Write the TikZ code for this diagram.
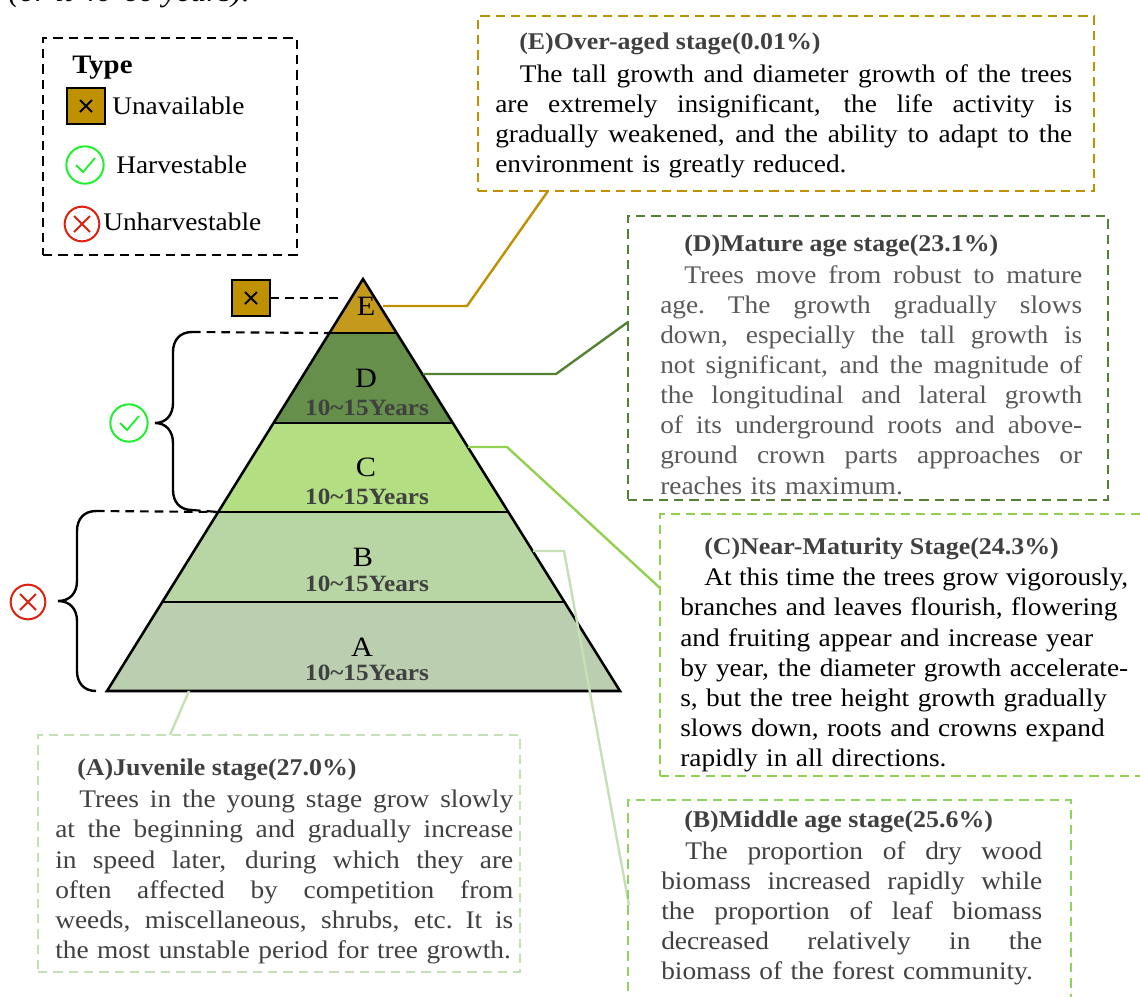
\documentclass[tikz,border=0pt]{standalone}
\usepackage{fontspec}
\setmainfont[FakeStretch=1.08]{Liberation Serif}
\usetikzlibrary{calc}
\definecolor{gE}{HTML}{BF9000}
\definecolor{gD}{HTML}{548235}
\definecolor{gC}{HTML}{92D050}
\definecolor{gB}{HTML}{8FD460}
\definecolor{gA}{HTML}{C5E0B4}
\definecolor{fE}{HTML}{C49A1C}
\definecolor{fD}{HTML}{658F4A}
\definecolor{fC}{HTML}{B3DF82}
\definecolor{fB}{HTML}{B8D6A4}
\definecolor{fA}{HTML}{BBCEAF}
\definecolor{okg}{HTML}{1FEF2F}
\definecolor{nor}{HTML}{E0200F}
\definecolor{txd}{HTML}{404040}
\definecolor{txg}{HTML}{595959}
\newcommand{\jl}[2][0pt]{\leavevmode\hbox to \hsize{\spaceskip=.25em plus 1fil minus .1em\xspaceskip=\spaceskip\hspace*{#1}#2}\\}
\newcommand{\lft}[2][0pt]{\makebox[\hsize][l]{\hspace*{#1}#2}\\}
\tikzset{
  x=0.75pt,y=-0.75pt,
  dbox/.style={draw=#1,dash pattern=on 7pt off 4.5pt,line width=1.6pt,anchor=north west,inner sep=0pt,outer sep=0pt},
  para/.style={anchor=north west,inner sep=0pt,align=left,font=\fontsize{19}{22.6}\selectfont},
  ttl/.style={anchor=west,inner sep=0pt,font=\fontsize{18}{22}\selectfont\bfseries,text=txd},
  seg/.style={draw=black,line width=1.9pt,line join=miter},
  lead/.style={draw=#1,line width=1.8pt},
  yrs/.style={inner sep=0pt,font=\fontsize{17.5}{20}\selectfont\bfseries,text=txd},
  let/.style={inner sep=0pt,font=\fontsize{21}{22}\selectfont},
  leg/.style={anchor=west,inner sep=0pt,font=\fontsize{19}{22}\selectfont},
  squ/.style={draw=black,fill=gE,line width=1.7pt,minimum width=29pt,minimum height=27pt,inner sep=0pt,outer sep=0pt},
  okc/.style={draw=okg,line width=1.5pt,circle,minimum size=28pt,inner sep=0pt},
  noc/.style={draw=nor,line width=1.5pt,circle,minimum size=26pt,inner sep=0pt},
  chk/.pic={\draw[okg,line width=1.4pt] (-9,0) -- (-2,7) -- (10,-7);},
  crs/.pic={\draw[nor,line width=1.5pt] (-8,-8) -- (8,8) (-8,8) -- (8,-8);},
  xxs/.pic={\draw[black,line width=1.5pt] (-6,-6) -- (6,6) (-6,6) -- (6,-6);},
  dsh/.style={draw=black,line width=1.6pt,dash pattern=on 6.5pt off 4.5pt},
  brc/.style={draw=black,line width=1.8pt},
}
\begin{document}
\begin{tikzpicture}
\useasboundingbox (0,0) rectangle (1140,997);
\clip (0,0) rectangle (1140,997);
% cropped line of text at the top
\node[anchor=east,inner sep=0pt,font=\fontsize{22}{24}\selectfont\itshape] (toptext) at (250,-6) {(or it 40-60 years).};
% pyramid
\coordinate (ap) at (363,279);
\coordinate (bl) at (107,691);
\coordinate (br) at (620,691);
\coordinate (l1) at ($(ap)!0.1311!(bl)$);
\coordinate (r1) at ($(ap)!0.1311!(br)$);
\coordinate (l2) at ($(ap)!0.3495!(bl)$);
\coordinate (r2) at ($(ap)!0.3495!(br)$);
\coordinate (l3) at ($(ap)!0.5655!(bl)$);
\coordinate (r3) at ($(ap)!0.5655!(br)$);
\coordinate (l4) at ($(ap)!0.7840!(bl)$);
\coordinate (r4) at ($(ap)!0.7840!(br)$);
\fill[fA] (l4) -- (r4) -- (br) -- (bl) -- cycle;
\fill[fB] (l3) -- (r3) -- (r4) -- (l4) -- cycle;
\fill[fC] (l2) -- (r2) -- (r3) -- (l3) -- cycle;
\fill[fD] (l1) -- (r1) -- (r2) -- (l2) -- cycle;
\fill[fE] (ap) -- (r1) -- (l1) -- cycle;
\draw[seg] (ap) -- (br) -- (bl) -- cycle;
\draw[seg] (l1) -- (r1) (l2) -- (r2) (l3) -- (r3) (l4) -- (r4);
\node[let] (letE) at (366,306) {E};
\node[let] (letD) at (366,378) {D};
\node[let] (letC) at (366,467) {C};
\node[let] (letB) at (363,557) {B};
\node[let] (letA) at (362,647) {A};
\node[yrs] (yrsD) at (367,408) {10\textasciitilde15Years};
\node[yrs] (yrsC) at (367,497) {10\textasciitilde15Years};
\node[yrs] (yrsB) at (367,584) {10\textasciitilde15Years};
\node[yrs] (yrsA) at (367,673) {10\textasciitilde15Years};
% leaders
\coordinate (eA) at (383,306); \coordinate (eB) at (467,306); \coordinate (eC) at (548,191);
\coordinate (dA) at (423,374); \coordinate (dB) at (556,374); \coordinate (dC) at (628,322);
\coordinate (cA) at (468,447); \coordinate (cB) at (507,447); \coordinate (cC) at (660,588);
\coordinate (bA) at (533,551); \coordinate (bB) at (564,551); \coordinate (bC) at (629,905);
\coordinate (aA) at (189,691); \coordinate (aC) at (170,735);
\draw[lead=gE] (eA) -- (eB) -- (eC);
\draw[lead=gD] (dA) -- (dB) -- (dC);
\draw[lead=gC] (cA) -- (cB) -- (cC);
\draw[lead=gA] (bA) -- (bB) -- (bC);
\draw[lead=gA] (aA) -- (aC);
% text boxes
\node[dbox=gE,minimum width=462pt,minimum height=131.25pt] (boxE) at (478,16) {};
\node[ttl] (tE) at (519,44) {(E)Over-aged stage(0.01\%)};
\node[para,text width=432.75pt] (pE) at (495,64) {%
\jl[18.5pt]{The tall growth and diameter growth of the trees}%
\jl{are extremely insignificant, the life activity is}%
\jl{gradually weakened, and the ability to adapt to the}%
\lft{environment is greatly reduced.}};
\node[dbox=gD,minimum width=360pt,minimum height=213pt] (boxD) at (628,216) {};
\node[ttl] (tD) at (684,246) {(D)Mature age stage(23.1\%)};
\node[para,text=txg,text width=316.5pt] (pD) at (660,265) {%
\jl[18pt]{Trees move from robust to mature}%
\jl{age. The growth gradually slows}%
\jl{down, especially the tall growth is}%
\jl{not significant, and the magnitude of}%
\jl{the longitudinal and lateral growth}%
\jl{of its underground roots and above-}%
\jl{ground crown parts approaches or}%
\lft{reaches its maximum.}};
\node[dbox=gC,minimum width=375pt,minimum height=196.5pt] (boxC) at (660,514) {};
\node[ttl] (tC) at (704,549) {(C)Near-Maturity Stage(24.3\%)};
\node[para,text width=336pt] (pC) at (680,568) {%
\jl[18pt]{At this time the trees grow vigorously,}%
\lft{branches and leaves flourish, flowering}%
\lft{and fruiting appear and increase year}%
\jl{by year, the diameter growth accelerate-}%
\lft{s, but the tree height growth gradually}%
\lft{slows down, roots and crowns expand}%
\lft{rapidly in all directions.}};
\node[dbox=gB,minimum width=332.25pt,minimum height=165pt] (boxB) at (628,800) {};
\node[ttl] (tB) at (684,822) {(B)Middle age stage(25.6\%)};
\node[para,text=txd,text width=285.75pt] (pB) at (661,841) {%
\jl[18pt]{The proportion of dry wood}%
\jl{biomass increased rapidly while}%
\jl{the proportion of leaf biomass}%
\jl{decreased relatively in the}%
\lft{biomass of the forest community.}};
\node[dbox=gA,minimum width=361.5pt,minimum height=177.75pt] (boxA) at (38,735) {};
\node[ttl] (tA) at (77,770) {(A)Juvenile stage(27.0\%)};
\node[para,text=txd,text width=343.5pt] (pA) at (55,790) {%
\jl[18pt]{Trees in the young stage grow slowly}%
\jl{at the beginning and gradually increase}%
\jl{in speed later, during which they are}%
\jl{often affected by competition from}%
\jl{weeds, miscellaneous, shrubs, etc. It is}%
\lft{the most unstable period for tree growth.}};
% legend
\node[dbox=black,minimum width=190.5pt,minimum height=162.75pt] (legbox) at (43,38) {};
\node[anchor=west,inner sep=0pt,font=\fontsize{20}{22}\selectfont\bfseries] (legt) at (72,68) {Type};
\node[squ] (sq1) at (86,106) {};
\pic at (sq1) {xxs};
\node[leg] (l1t) at (112,106) {Unavailable};
\node[okc] (ok1) at (85,165) {};
\pic at (ok1) {chk};
\node[leg] (l2t) at (116,165) {Harvestable};
\node[noc] (no1) at (82,224) {};
\pic at (no1) {crs};
\node[leg] (l3t) at (103,222) {Unharvestable};
% marks at the pyramid
\node[squ] (sq2) at (251,298) {};
\pic at (sq2) {xxs};
\coordinate (sqEnd) at (342,298);
\draw[dsh] (sq2.east) -- (sqEnd);
\node[okc] (ok2) at (129,423) {};
\pic at (ok2) {chk};
\node[noc] (no2) at (28,602) {};
\pic at (no2) {crs};
% braces
\coordinate (ub1) at (192,332); \coordinate (ub2) at (192,510);
\coordinate (ut) at (155,423);
\coordinate (lb1) at (96,511); \coordinate (lb2) at (96,691);
\coordinate (lt) at (58,601);
\draw[dsh] (ub1) -- (l1);
\draw[dsh] (ub2) -- (l3);
\draw[dsh] (lb1) -- (l3);
\draw[brc] (ub1) .. controls (180,332) and (173,340) .. (173,352) -- (173,403)
  .. controls (173,415) and (166,423) .. (ut) .. controls (166,423) and (173,431) .. (173,443)
  -- (173,490) .. controls (173,502) and (180,510) .. (ub2);
\draw[brc] (lb1) .. controls (84,511) and (77,519) .. (77,531) -- (77,581)
  .. controls (77,593) and (70,601) .. (lt) .. controls (70,601) and (77,609) .. (77,621)
  -- (77,671) .. controls (77,683) and (84,691) .. (lb2);
\end{tikzpicture}
\end{document}
